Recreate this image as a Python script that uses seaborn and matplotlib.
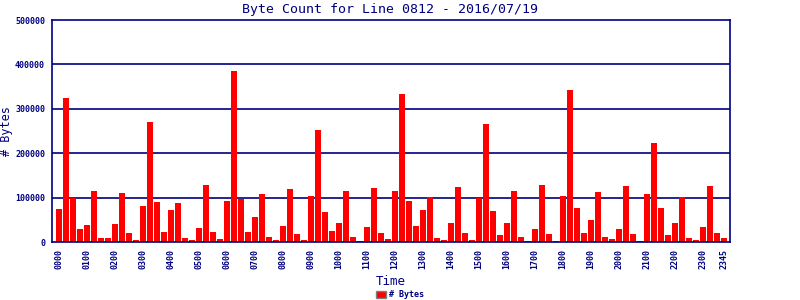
import matplotlib
matplotlib.use("Agg")
import matplotlib.pyplot as plt
from matplotlib.patches import Patch
import seaborn as sns
import pandas as pd

hours = ["%02d" % h for h in range(24)]
minutes = ["00", "15", "30", "45"]
times = [h + m for h in hours for m in minutes]

byte_counts = [
    74000, 324000, 99000, 29000, 38000, 115000, 9000, 9000,
    40000, 110000, 20000, 5000, 81000, 270000, 90000, 23000,
    72000, 88000, 9000, 5000, 32000, 128000, 23000, 7000,
    92000, 385000, 97000, 23000, 56000, 108000, 11000, 5000,
    36000, 119000, 18000, 5000, 104000, 252000, 68000, 25000,
    43000, 115000, 11000, 2000, 34000, 122000, 20000, 7000,
    115000, 333000, 92000, 36000, 72000, 101000, 9000, 5000,
    43000, 124000, 20000, 5000, 99000, 266000, 70000, 16000,
    43000, 115000, 11000, 2000, 29000, 128000, 18000, 2000,
    104000, 342000, 77000, 20000, 50000, 113000, 11000, 7000,
    29000, 126000, 18000, 2000, 108000, 223000, 77000, 16000,
    43000, 101000, 9000, 5000, 34000, 126000, 20000, 9000,
]

tick_labels = ["0000", "0100", "0200", "0300", "0400", "0500", "0600", "0700",
               "0800", "0900", "1000", "1100", "1200", "1300", "1400", "1500",
               "1600", "1700", "1800", "1900", "2000", "2100", "2200", "2300", "2345"]
y_ticks = [0, 100000, 200000, 300000, 400000, 500000]

df = pd.DataFrame({"Time": times, "Bytes": byte_counts})

navy = "#000080"
sns.set_style("white")
plt.rcParams["font.family"] = ["DejaVu Sans Mono"]

fig = plt.figure(figsize=(8, 3), dpi=100)
ax = fig.add_axes([0.065, 0.1933, 0.8475, 0.74])

sns.barplot(data=df, x="Time", y="Bytes", color="#ff0000", saturation=1,
            width=0.86, ax=ax, linewidth=0)

ax.set_xlim(-1, 95.86)
ax.set_ylim(0, 500000)
ax.set_yticks(y_ticks)
ax.set_yticklabels([str(v) for v in y_ticks], fontsize=6, fontweight="bold", color=navy)

pos = [times.index(t) for t in tick_labels]
ax.set_xticks(pos)
ax.set_xticklabels(tick_labels, rotation=90, fontsize=6, fontweight="bold", color=navy)

ax.tick_params(axis="both", colors=navy, length=3, width=1, pad=2)
for s in ax.spines.values():
    s.set_color(navy)
    s.set_linewidth(1.2)
    s.set_visible(True)

for v in y_ticks[1:-1]:
    ax.axhline(v, color=navy, linewidth=1.2, zorder=0.5)

ax.set_xlabel("Time", fontsize=9, color=navy, labelpad=4)
ax.set_ylabel("# Bytes", fontsize=8.5, color=navy)
ax.yaxis.set_label_coords(-0.0575, 0.5)
fig.text(0.487, 0.97, "Byte Count for Line 0812 - 2016/07/19", ha="center", va="center",
         fontsize=9.5, color=navy)

handle = Patch(facecolor="#ff0000", edgecolor="gray", linewidth=1)
leg = fig.legend([handle], ["# Bytes"], loc="center", bbox_to_anchor=(0.5, 0.017),
                 frameon=False, handlelength=1.2, handleheight=0.9, handletextpad=0.4,
                 prop={"size": 6, "weight": "bold"})
for t in leg.get_texts():
    t.set_color(navy)

fig.savefig("out.png", dpi=100)
